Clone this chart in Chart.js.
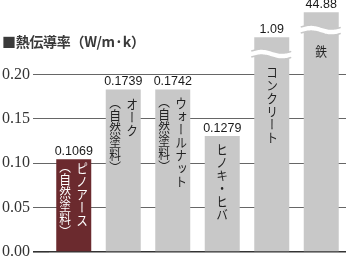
<!DOCTYPE html>
<html>
<head>
<meta charset="utf-8">
<script src="https://cdn.jsdelivr.net/npm/chart.js@4"></script>
<style>
  html, body { margin: 0; padding: 0; background: #fff; }
  #wrap { position: relative; width: 350px; height: 258px; }
  #title { position: absolute; left: 2px; top: 31px; font: bold 14px "Noto Sans CJK JP"; color: #3a3a3a; white-space: nowrap; letter-spacing: -0.3px; }
  .vlab { position: absolute; writing-mode: vertical-rl; font: 13px/13px "Noto Sans CJK JP"; white-space: nowrap; transform: translateX(-50%) scaleX(0.9); }
</style>
</head>
<body>
<div id="wrap">
  <canvas id="chart" width="350" height="258"></canvas>
  <div id="title">■熱伝導率（W/m·k）</div>
</div>
<script>
const materials = ["ピノアース", "オーク", "ウォールナット", "ヒノキ・ヒバ", "コンクリート", "鉄"];
const notes = ["（自然塗料）", "（自然塗料）", "（自然塗料）", "", "", ""];
const values = [0.1069, 0.1739, 0.1742, 0.1279, 1.09, 44.88];
const valueLabels = ["0.1069", "0.1739", "0.1742", "0.1279", "1.09", "44.88"];
// heights the bars are actually drawn at in the picture (last two are cut off, with a break)
const barHeights = [0.1045, 0.183, 0.183, 0.1307, 0.242, 0.270];
const breakAt = [null, null, null, null, 0.223, 0.250];
const yTicks = [0, 0.05, 0.10, 0.15, 0.20];

const barColors = ["#6b2a2e", "#c8c8c8", "#c8c8c8", "#c8c8c8", "#c8c8c8", "#c8c8c8"];
const textColors = ["#ffffff", "#222", "#222", "#222", "#222", "#222"];
const textGap = [3, 8, 7, 7, 12, 15];

const extras = {
  id: "extras",
  afterDatasetsDraw(chart) {
    const ctx = chart.ctx;
    const meta = chart.getDatasetMeta(0);
    const y = chart.scales.y;
    ctx.save();
    meta.data.forEach((bar, i) => {
      // value label
      ctx.fillStyle = "#1a1a1a";
      ctx.font = "12.5px 'Liberation Sans'";
      ctx.textAlign = "center";
      ctx.textBaseline = "bottom";
      ctx.fillText(valueLabels[i], bar.x, bar.y - 1.5);
      // axis break
      if (breakAt[i] != null) {
        const yc = y.getPixelForValue(breakAt[i]);
        const x0 = bar.x - bar.width / 2 - 3, x1 = bar.x + bar.width / 2 + 3;
        const wave = (x, off) => yc + off - 2 * Math.sin((x - x0) / (x1 - x0) * Math.PI * 2);
        ctx.beginPath();
        for (let x = x0; x <= x1; x++) ctx.lineTo(x, wave(x, -3));
        for (let x = x1; x >= x0; x--) ctx.lineTo(x, wave(x, 3));
        ctx.closePath();
        ctx.fillStyle = "#fff";
        ctx.fill();
        ctx.strokeStyle = "#c8c8c8";
        ctx.lineWidth = 1.5;
        [-3, 3].forEach(off => {
          ctx.beginPath();
          for (let x = x0; x <= x1; x++) ctx.lineTo(x, wave(x, off));
          ctx.stroke();
        });
      }
    });
    ctx.restore();
  },
  afterRender(chart) {
    if (chart._labelsPlaced) return;
    chart._labelsPlaced = true;
    const wrap = document.getElementById("wrap");
    const meta = chart.getDatasetMeta(0);
    const y = chart.scales.y;
    const addCol = (text, x, top, color) => {
      const d = document.createElement("div");
      d.className = "vlab";
      d.style.color = color;
      d.style.top = top + "px";
      d.style.left = x + "px";
      d.textContent = text;
      wrap.appendChild(d);
    };
    meta.data.forEach((bar, i) => {
      const top = breakAt[i] != null ? y.getPixelForValue(breakAt[i]) + textGap[i] : bar.y + textGap[i];
      if (notes[i]) {
        addCol(materials[i], bar.x + 8.5, top, textColors[i]);
        addCol(notes[i], bar.x - 8.5, top - 2, textColors[i]);
      } else {
        addCol(materials[i], bar.x, top, textColors[i]);
      }
    });
  }
};

new Chart(document.getElementById("chart"), {
  type: "bar",
  data: {
    labels: materials,
    datasets: [{ data: barHeights, backgroundColor: barColors, borderWidth: 0, barPercentage: 0.707, categoryPercentage: 1 }]
  },
  options: {
    responsive: false,
    animation: false,
    layout: { padding: { top: 0, bottom: 6, right: 4, left: 0 } },
    plugins: { legend: { display: false }, tooltip: { enabled: false } },
    scales: {
      x: { display: false },
      y: {
        min: 0,
        max: 0.2839,
        afterBuildTicks: s => { s.ticks = yTicks.map(v => ({ value: v })); },
        afterFit: s => { s.width = 49; s.paddingTop = 0; s.paddingBottom = 0; },
        border: { display: false },
        grid: {
          tickLength: 16,
          color: c => c.tick && c.tick.value === 0 ? "#333" : "#666",
          lineWidth: c => c.tick && c.tick.value === 0 ? 1.6 : 1
        },
        ticks: {
          padding: 3,
          color: "#333",
          font: { family: "Liberation Serif", size: 16 },
          callback: v => v.toFixed(2)
        }
      }
    }
  },
  plugins: [extras]
});
</script>
</body>
</html>
